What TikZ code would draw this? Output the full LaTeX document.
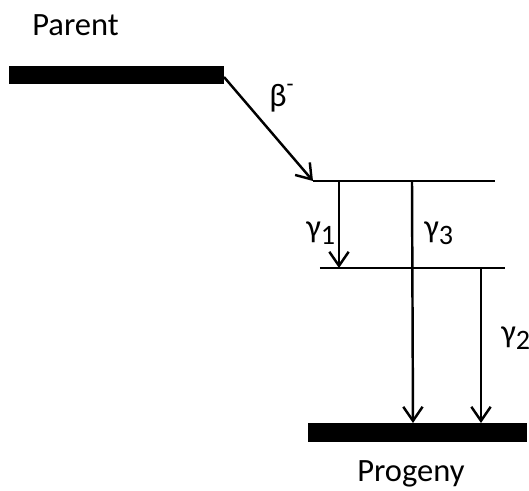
\documentclass[tikz,border=0pt]{standalone}
\usepackage{fontspec}
\setmainfont{Carlito}
\usetikzlibrary{arrows.meta}
\newcommand{\lvsub}[1]{\raisebox{-0.22em}{\fontsize{16}{16}\selectfont #1}}
\tikzset{
  lbl/.style={anchor=base west, inner sep=0pt, font=\fontsize{18.5}{22}\selectfont},
  level/.style={draw=black, line width=1.5pt},
  trans/.style={draw=black, line width=1.4pt, -{Straight Barb[length=8pt, width=11pt, line width=1.4pt]}},
}
\begin{document}
\begin{tikzpicture}[x=0.02cm, y=-0.02cm]
    \useasboundingbox (0, 0) rectangle (529, 491);

    % parent and progeny ground states
    \fill[black] (9, 66) rectangle (224, 84);
    \fill[black] (308, 423) rectangle (527, 442);
    \coordinate (par) at (224, 77);

    % excited levels of the progeny
    \coordinate (l1a) at (313, 181);
    \coordinate (l1b) at (495, 181);
    \coordinate (l2a) at (320, 268);
    \coordinate (l2b) at (505, 268);
    \draw[level] (l1a) -- (l1b);
    \draw[level] (l2a) -- (l2b);

    \coordinate (g1s) at (339, 181);
    \coordinate (g1e) at (339, 268);
    \coordinate (g3s) at (412, 181);
    \coordinate (g3e) at (413, 423);
    \coordinate (g2s) at (481, 268);
    \coordinate (g2e) at (481, 423);

    \node[lbl] (parent) at (32, 35) {Parent};
    \node[lbl] (progeny) at (357, 481) {Progeny};
    \node[lbl] (beta) at (269, 106) {β\raisebox{0.45em}{\fontsize{13}{13}\selectfont -}};
    \node[lbl] (gam1) at (306, 237) {γ\lvsub{1}};
    \node[lbl] (gam3) at (424, 237) {γ\lvsub{3}};
    \node[lbl] (gam2) at (501, 342) {γ\lvsub{2}};

    \draw[trans] (par) -- (l1a);
    \draw[trans] (g1s) -- (g1e);
    \draw[trans] (g3s) -- (g3e);
    \draw[trans] (g2s) -- (g2e);

\end{tikzpicture}
\end{document}
